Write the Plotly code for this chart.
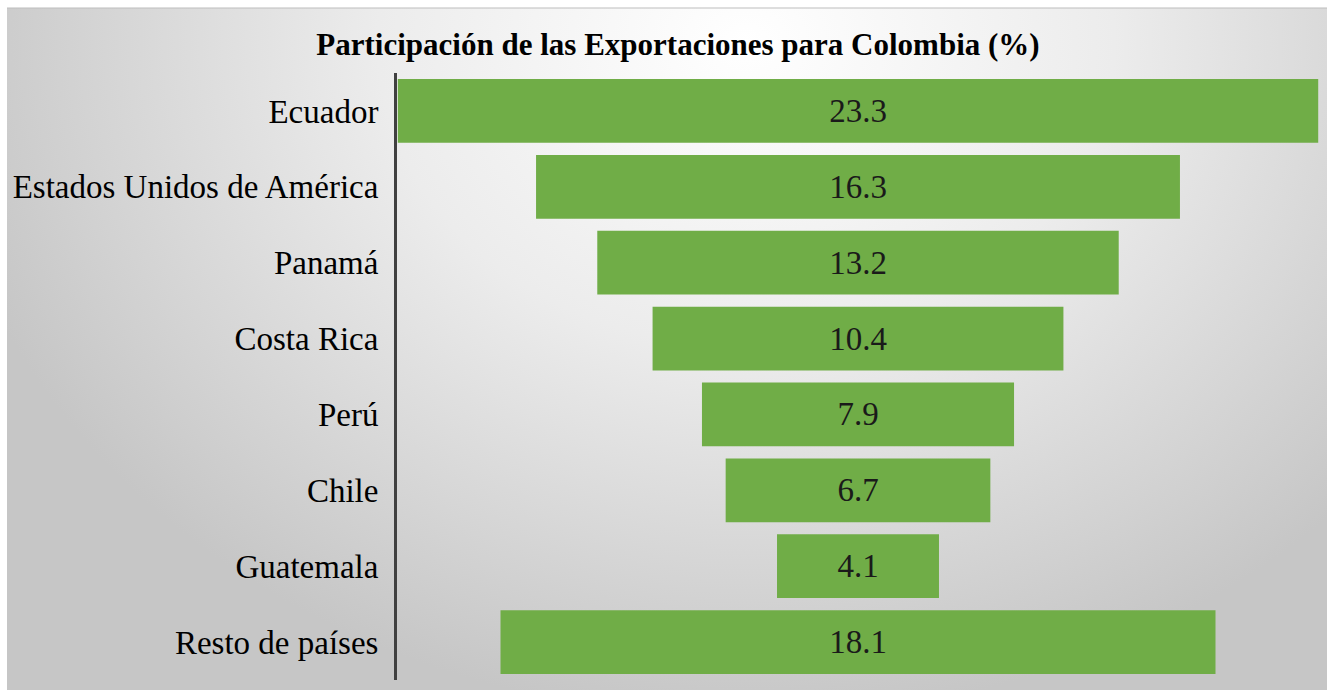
import base64
import plotly.graph_objects as go

# Export share by destination (%)
paises = ["Ecuador", "Estados Unidos de América", "Panamá", "Costa Rica",
          "Perú", "Chile", "Guatemala", "Resto de países"]
participacion = [23.3, 16.3, 13.2, 10.4, 7.9, 6.7, 4.1, 18.1]

titulo = "Participación de las Exportaciones para Colombia (%)"

SERIF = "'Liberation Serif', 'Times New Roman', Times, serif"

W, H = 1327, 691
ML, MR, MT, MB = 397, 8, 73, 11
PW, PH = W - ML - MR, H - MT - MB

# soft radial background (white centre fading to grey)
svg = """<svg xmlns='http://www.w3.org/2000/svg' width='1320' height='682' viewBox='0 0 1320 682' preserveAspectRatio='none'>
<defs><radialGradient id='g' cx='0.56' cy='0.05' r='0.62' gradientTransform='translate(0.56 0.05) scale(1 1.6) translate(-0.56 -0.05)'>
<stop offset='0' stop-color='#ffffff'/><stop offset='0.45' stop-color='#ececec'/><stop offset='1' stop-color='#c6c6c6'/></radialGradient></defs>
<rect width='1320' height='682' fill='url(#g)'/></svg>"""
bg_src = "data:image/svg+xml;base64," + base64.b64encode(svg.encode()).decode()

def px_to_paper_x(px):
    return (px - ML) / PW

def px_to_paper_y(py):
    return (H - MB - py) / PH

fig = go.Figure(go.Funnel(
    y=paises,
    x=participacion,
    marker=dict(color="#70AD47"),
    connector=dict(visible=False),
    texttemplate="%{x:.1f}",
    textposition="inside",
    textangle=0,
    constraintext="none",
    insidetextfont=dict(family=SERIF, size=33, color="#1a1a1a"),
    hoverinfo="skip",
))

fig.update_layout(
    width=W, height=H,
    margin=dict(l=ML, r=MR, t=MT, b=MB),
    paper_bgcolor="white",
    plot_bgcolor="rgba(0,0,0,0)",
    funnelgap=0.16,
    showlegend=False,
    title=dict(text="<b>" + titulo + "</b>", x=px_to_paper_x(678), xref="paper",
               xanchor="center", y=1 - 44 / H, yanchor="middle",
               font=dict(family=SERIF, size=31, color="#000000")),
    images=[dict(source=bg_src, xref="paper", yref="paper",
                 x=px_to_paper_x(7), y=px_to_paper_y(8),
                 sizex=(W - 7) / PW, sizey=(690 - 8) / PH,
                 xanchor="left", yanchor="top", sizing="stretch", layer="below")],
    shapes=[dict(type="line", xref="paper", yref="paper",
                 x0=px_to_paper_x(7), x1=px_to_paper_x(W),
                 y0=px_to_paper_y(8), y1=px_to_paper_y(8),
                 line=dict(color="#bdbdbd", width=1))],
    xaxis=dict(visible=False, range=[-23.3 / 2 - 0.02, 23.3 / 2 + 0.02]),
    yaxis=dict(showline=True, linecolor="#404040", linewidth=3,
               ticks="", ticklabelstandoff=9, showgrid=False,
               tickfont=dict(family=SERIF, size=33, color="#000000")),
)

fig.write_html("out.html")
